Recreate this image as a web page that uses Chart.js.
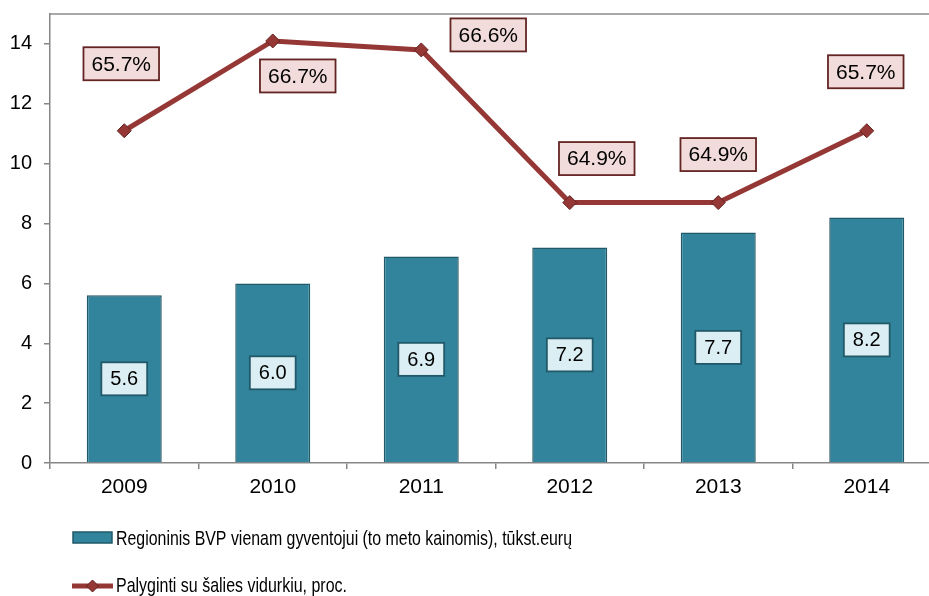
<!DOCTYPE html>
<html>
<head>
<meta charset="utf-8">
<script src="https://cdn.jsdelivr.net/npm/chart.js@4.4.1/dist/chart.umd.min.js"></script>
<style>
  html, body { margin: 0; padding: 0; background: #fff; overflow: hidden; }
  #wrap { width: 949px; height: 596px; position: relative; }
</style>
</head>
<body>
<div id="wrap"><canvas id="chart"></canvas></div>
<script>
const years = ["2009", "2010", "2011", "2012", "2013", "2014"];
const gdpPerCapita = [5.6, 6.0, 6.9, 7.2, 7.7, 8.2];
const vsNational = [65.7, 66.7, 66.6, 64.9, 64.9, 65.7];
const yTickValues = [0, 2, 4, 6, 8, 10, 12, 14];
const gdpLabel = "Regioninis BVP vienam gyventojui (to meto kainomis), tūkst.eurų";
const lineLabel = "Palyginti su šalies vidurkiu, proc.";

// where each percentage box sits relative to its point
const pctShift = [[-3, -67], [25, 35], [67, -15], [27, -44], [0, -48], [-1, -59]];

const barFill = "#31849b";
const barEdge = "#215968";
const lineColor = "#953735";
const lineEdge = "#632523";

function box(ctx, text, cx, cy, padX, fill, edge, font) {
    ctx.font = font;
    const w = ctx.measureText(text).width + padX * 2;
    const h = 33;
    ctx.fillStyle = fill;
    ctx.strokeStyle = edge;
    ctx.lineWidth = 1.8;
    ctx.fillRect(cx - w / 2, cy - h / 2, w, h);
    ctx.strokeRect(cx - w / 2, cy - h / 2, w, h);
    ctx.fillStyle = "#000";
    ctx.textAlign = "center";
    ctx.textBaseline = "middle";
    ctx.fillText(text, cx, cy + 1);
}

function diamond(ctx, x, y, r) {
    ctx.beginPath();
    ctx.moveTo(x, y - r);
    ctx.lineTo(x + r, y);
    ctx.lineTo(x, y + r);
    ctx.lineTo(x - r, y);
    ctx.closePath();
    ctx.fillStyle = lineColor;
    ctx.fill();
    ctx.strokeStyle = lineEdge;
    ctx.lineWidth = 1;
    ctx.stroke();
}

const extras = {
    id: "extras",
    afterDraw(chart) {
        const ctx = chart.ctx;
        const area = chart.chartArea;
        ctx.save();

        // top border of plot area
        ctx.strokeStyle = "#8c8c8c";
        ctx.lineWidth = 1.5;
        ctx.beginPath();
        ctx.moveTo(area.left, area.top);
        ctx.lineTo(area.right, area.top);
        ctx.stroke();

        // bar value boxes
        chart.getDatasetMeta(0).data.forEach((bar, i) => {
            const mid = (bar.y + bar.base) / 2;
            box(ctx, gdpPerCapita[i].toFixed(1), bar.x, mid, 9, "#dbeef4", barEdge, "20px 'Liberation Sans', Arial, sans-serif");
        });

        // percentage boxes
        chart.getDatasetMeta(1).data.forEach((pt, i) => {
            box(ctx, vsNational[i].toFixed(1) + "%", pt.x + pctShift[i][0], pt.y + pctShift[i][1], 8, "#f2dcdb", lineEdge, "21px 'Liberation Sans', Arial, sans-serif");
        });

        // legend
        ctx.fillStyle = barFill;
        ctx.strokeStyle = barEdge;
        ctx.lineWidth = 1.5;
        ctx.fillRect(73, 532, 39, 11);
        ctx.strokeRect(73, 532, 39, 11);

        ctx.strokeStyle = lineColor;
        ctx.lineWidth = 5;
        ctx.beginPath();
        ctx.moveTo(72, 586);
        ctx.lineTo(113, 586);
        ctx.stroke();
        diamond(ctx, 92.5, 586, 6);

        ctx.fillStyle = "#000";
        ctx.textAlign = "left";
        ctx.textBaseline = "middle";
        ctx.font = "21px 'Liberation Sans Narrow', 'Liberation Sans', Arial, sans-serif";
        ctx.fillText(gdpLabel, 116, 539, 456);
        ctx.fillText(lineLabel, 116, 586, 231);
        ctx.restore();
    }
};

new Chart(document.getElementById("chart"), {
    data: {
        labels: years,
        datasets: [{
            type: "bar",
            label: gdpLabel,
            data: gdpPerCapita,
            backgroundColor: barFill,
            borderColor: barEdge,
            borderWidth: 1.5,
            barPercentage: 0.505,
            categoryPercentage: 1,
            yAxisID: "y",
            order: 2
        }, {
            type: "line",
            label: lineLabel,
            data: vsNational,
            borderColor: lineColor,
            borderWidth: 5,
            pointStyle: "rectRot",
            pointRadius: 7,
            pointBackgroundColor: lineColor,
            pointBorderColor: lineEdge,
            pointBorderWidth: 1,
            tension: 0,
            yAxisID: "y2",
            order: 1
        }]
    },
    options: {
        responsive: true,
        maintainAspectRatio: false,
        animation: false,
        layout: { padding: { top: 14, left: 0, right: 0, bottom: 93 } },
        plugins: { legend: { display: false }, tooltip: { enabled: false } },
        scales: {
            x: {
                afterFit: s => { s.height = 40; s.paddingLeft = 0; s.paddingRight = 0; },
                grid: { offset: true, drawOnChartArea: false, tickLength: 6, color: "#868686", lineWidth: 1.5 },
                border: { color: "#868686", width: 1.5 },
                ticks: { color: "#000", padding: 6, font: { family: "'Liberation Sans', Arial, sans-serif", size: 21 } }
            },
            y: {
                min: 0,
                max: 15,
                afterFit: s => { s.width = 50; s.paddingTop = 0; s.paddingBottom = 0; },
                afterBuildTicks: s => { s.ticks = yTickValues.map(v => ({ value: v })); },
                grid: { drawOnChartArea: false, tickLength: 6, color: "#868686", lineWidth: 1.5 },
                border: { color: "#868686", width: 1.5 },
                ticks: { color: "#000", padding: 12, font: { family: "'Liberation Sans', Arial, sans-serif", size: 20 } }
            },
            y2: {
                display: false,
                min: 62,
                max: 67
            }
        }
    },
    plugins: [extras]
});
</script>
</body>
</html>
